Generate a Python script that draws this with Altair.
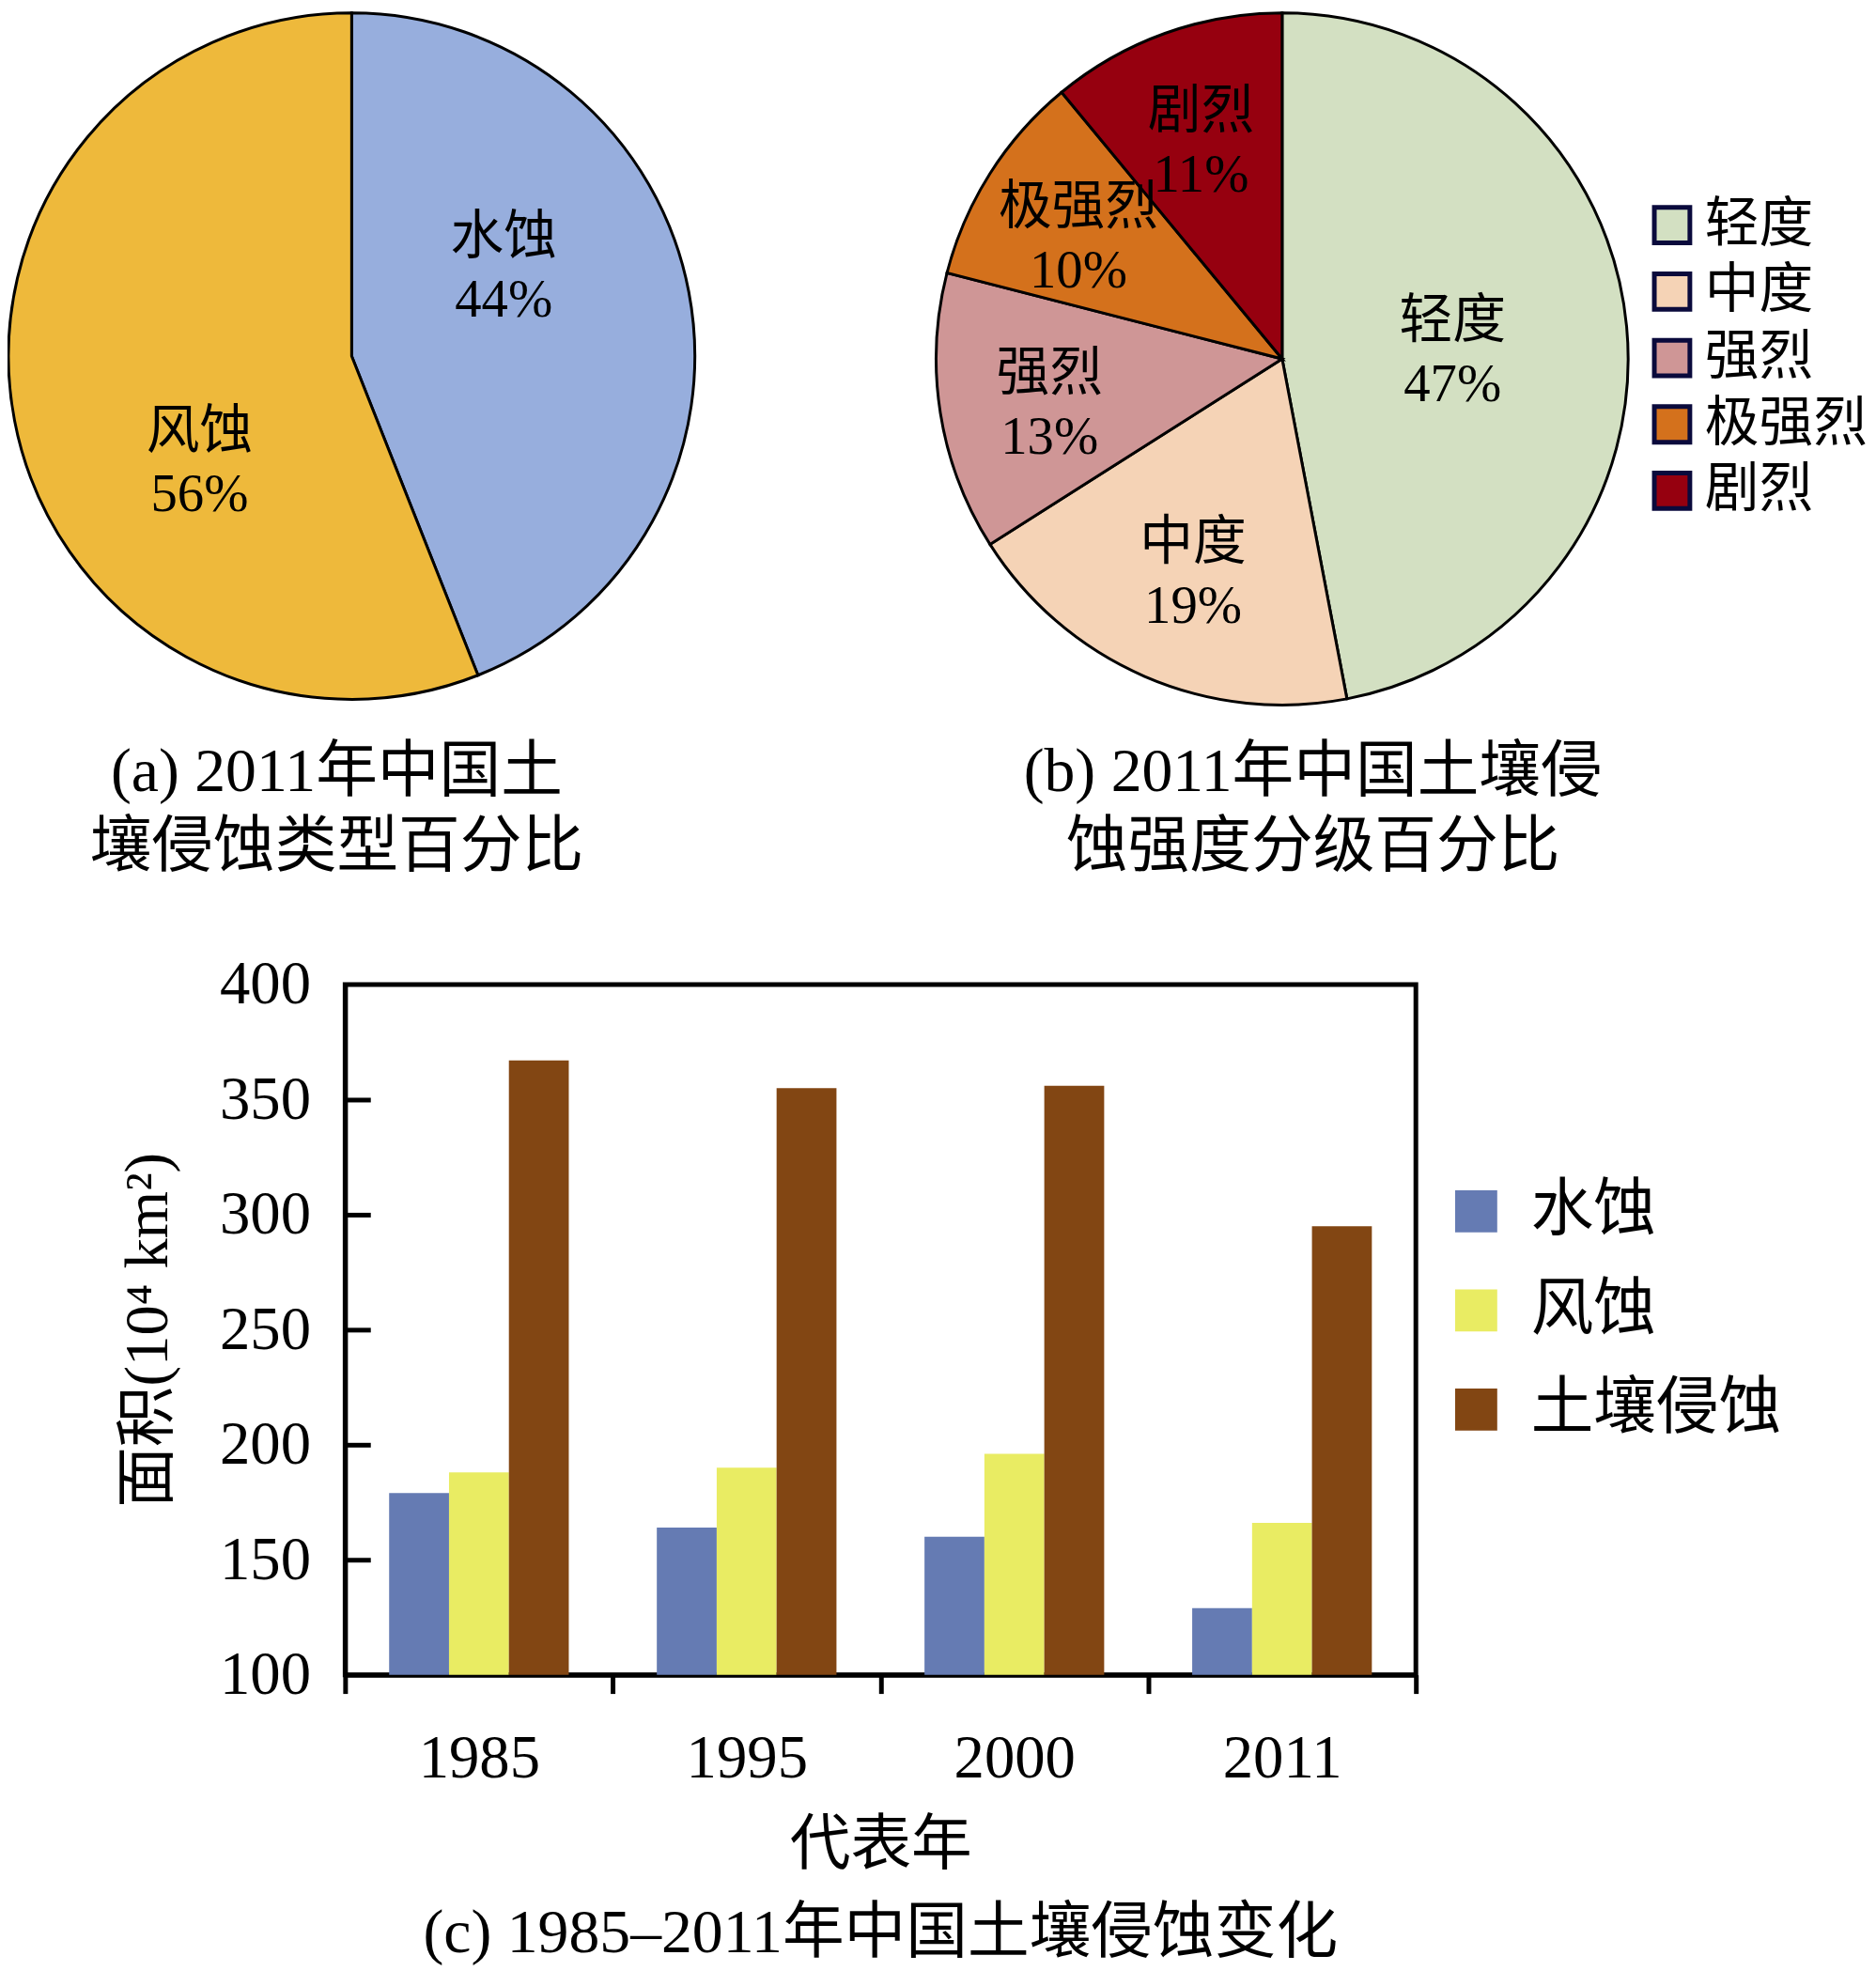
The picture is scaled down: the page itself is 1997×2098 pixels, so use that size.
import altair as alt
import pandas as pd

FONT = "Liberation Serif, Noto Sans CJK SC"

# (a) erosion type share, 2011
type_names = ["水蚀", "风蚀"]
type_pct = [44, 56]
type_colors = ["#97AEDD", "#EEB93B"]

# (b) erosion intensity share, 2011
grade_names = ["轻度", "中度", "强烈", "极强烈", "剧烈"]
grade_pct = [47, 19, 13, 10, 11]
grade_colors = ["#D3E0C2", "#F5D3B6", "#CF9696", "#D4711C", "#96000F"]

# (c) eroded area, 10^4 km2
years = ["1985", "1995", "2000", "2011"]
water = [179, 164, 160, 129]
wind = [188, 190, 196, 166]
total = [367, 355, 356, 295]
series = ["水蚀", "风蚀", "土壤侵蚀"]
series_colors = ["#657BB3", "#E9EC63", "#824613"]
y_ticks = [100, 150, 200, 250, 300, 350, 400]


def pie_chart(names, pct, colors, size, caption, caption_dx, caption_offset,
              label_radius, theta_offset, legend):
    """Pie with two-line labels and a caption underneath."""
    df = pd.DataFrame({"name": names, "pct": pct, "order": list(range(len(names)))})
    df["label"] = df["name"] + "\n" + df["pct"].astype(str) + "%"

    base = alt.Chart(df).encode(
        theta=alt.Theta("pct:Q", stack=True),
        order=alt.Order("order:Q"),
    )
    arcs = base.mark_arc(outerRadius=size / 2, stroke="black", strokeWidth=3).encode(
        color=alt.Color(
            "name:N",
            sort=names,
            scale=alt.Scale(domain=names, range=colors),
            legend=legend,
        )
    )
    labels = base.mark_text(
        thetaOffset=theta_offset,
        font=FONT,
        fontSize=57,
        lineBreak="\n",
        lineHeight=68,
        dy=-23,
        color="black",
    ).encode(text="label:N", radius=label_radius)

    return (arcs + labels).properties(
        width=size,
        height=size,
        title=alt.TitleParams(
            caption,
            orient="bottom",
            anchor="middle",
            frame="group",
            font=FONT,
            fontSize=66,
            fontWeight="normal",
            lineHeight=80,
            offset=caption_offset,
            dx=caption_dx,
            color="black",
        ),
    )


pie_a = pie_chart(
    type_names, type_pct, type_colors, 734,
    ["(a) 2011年中国土", "壤侵蚀类型百分比"], -16, 40,
    alt.value(193), -0.38, None,
)

# small slices get their labels further out, as in the original
pie_b = pie_chart(
    grade_names, grade_pct, grade_colors, 740,
    ["(b) 2011年中国土壤侵", "蚀强度分级百分比"], 33, 34,
    alt.Radius("pct:Q", scale=alt.Scale(type="linear", zero=False,
                                         domain=[10, 47], range=[258, 183])),
    0,
    alt.Legend(
        title=None,
        orient="none",
        legendX=758,
        legendY=198,
        padding=0,
        symbolType="square",
        symbolSize=1444,
        symbolStrokeColor="#0A0A3C",
        symbolStrokeWidth=5,
        labelFont=FONT,
        labelFontSize=58,
        labelColor="black",
        labelOffset=6,
        labelLimit=0,
        rowPadding=13,
    ),
)

top = alt.hconcat(pie_a, pie_b, spacing=246).resolve_scale(
    color="independent", radius="independent"
)

# bar data in long form
rows = []
for i, yr in enumerate(years):
    for name, vals in zip(series, [water, wind, total]):
        rows.append({"year": yr, "series": name, "value": vals[i]})
bar_df = pd.DataFrame(rows)

bars = alt.Chart(bar_df).mark_bar().encode(
    x=alt.X(
        "year:N",
        sort=years,
        scale=alt.Scale(paddingInner=0, paddingOuter=0),
        axis=alt.Axis(
            title="代表年",
            labelAngle=0,
            tickBand="extent",
            tickSize=20,
            tickWidth=5,
            tickColor="black",
            domainWidth=5,
            domainColor="black",
            labelFont=FONT,
            labelFontSize=65,
            labelColor="black",
            labelPadding=38,
            titleFont=FONT,
            titleFontSize=65,
            titleFontWeight="normal",
            titleColor="black",
            titlePadding=29,
        ),
    ),
    xOffset=alt.XOffset(
        "series:N", sort=series,
        scale=alt.Scale(paddingOuter=0.735, paddingInner=0),
    ),
    y=alt.Y(
        "value:Q",
        scale=alt.Scale(domain=[100, 400], nice=False, zero=False),
        axis=alt.Axis(
            title="面积(10⁴ km²)",
            values=y_ticks,
            ticks=False,
            tickSize=0,
            grid=False,
            domainWidth=5,
            domainColor="black",
            labelFont=FONT,
            labelFontSize=65,
            labelColor="black",
            labelPadding=37,
            titleFont=FONT,
            titleFontSize=65,
            titleFontWeight="normal",
            titleColor="black",
            titlePadding=42,
        ),
    ),
    y2=alt.datum(100),
    color=alt.Color(
        "series:N",
        sort=series,
        scale=alt.Scale(domain=series, range=series_colors),
        legend=alt.Legend(
            title=None,
            orient="none",
            legendX=1536,
            legendY=209,
            padding=0,
            symbolType="square",
            symbolSize=2025,
            symbolStrokeWidth=0,
            labelFont=FONT,
            labelFontSize=67,
            labelColor="black",
            labelOffset=25,
            labelLimit=0,
            rowPadding=38,
        ),
    ),
)

# inward ticks on the left edge (right-oriented axis pulled back across the plot)
inner_ticks = alt.Chart(bar_df).mark_point(opacity=0).encode(
    y=alt.Y(
        "value:Q",
        axis=alt.Axis(
            orient="right",
            offset=-1145,
            values=y_ticks[1:-1],
            labels=False,
            domain=False,
            grid=False,
            tickSize=27,
            tickWidth=5,
            tickColor="black",
            title=None,
        ),
    )
)

bar_chart = (
    alt.layer(bars, inner_ticks)
    .resolve_axis(y="independent")
    .properties(
        width=1145,
        height=738,
        view=alt.ViewBackground(stroke="black", strokeWidth=5),
        title=alt.TitleParams(
            "(c) 1985–2011年中国土壤侵蚀变化",
            orient="bottom",
            anchor="middle",
            frame="group",
            font=FONT,
            fontSize=66,
            fontWeight="normal",
            offset=30,
            color="black",
        ),
    )
)

spacer = alt.Chart(pd.DataFrame({"v": [0]})).mark_point(opacity=0).encode(
    x=alt.X("v:Q", axis=None),
    y=alt.Y("v:Q", axis=None),
).properties(width=340, height=10)

bottom = alt.hconcat(spacer, bar_chart, spacing=20, bounds="flush")

chart = (
    alt.vconcat(top, bottom, spacing=79)
    .resolve_scale(color="independent")
    .properties(padding={"left": -5, "top": -5, "right": 0, "bottom": 0}, background="white")
    .configure_view(stroke=None)
)

chart.save("out.html", embed_options={"renderer": "svg", "actions": False})
